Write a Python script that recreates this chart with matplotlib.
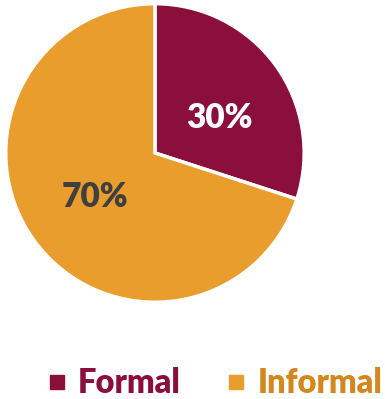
import matplotlib.pyplot as plt
from matplotlib.lines import Line2D

plt.rcParams['font.family'] = ['Lato', 'DejaVu Sans']

# --- data ---
labels = ['Formal', 'Informal']
shares = [30, 70]
colors = ['#8A0F3B', '#E89D2C']
label_colors = ['white', '#3F3F3F']
legend_text_colors = ['#8A0F3B', '#D4861F']

fig = plt.figure(figsize=(3.85, 3.99), dpi=100)
ax = fig.add_axes([0.013, 0.2406, 0.779, 0.752])

wedges, texts, autotexts = ax.pie(
    shares, colors=colors, startangle=90, counterclock=False,
    autopct=lambda p: f"{p:.0f}%", pctdistance=0.5,
    wedgeprops=dict(edgecolor='white', linewidth=2.5),
)
for t, c in zip(autotexts, label_colors):
    t.set_color(c)
    t.set_fontsize(24)
    t.set_fontweight('heavy')
# nudge the small-slice label a bit lower
autotexts[0].set_position((0.43, 0.235))
ax.set_aspect('auto')
ax.set_xlim(-1.005, 1.005)
ax.set_ylim(-1.005, 1.005)

# legend along the bottom
handles = [Line2D([], [], marker='s', linestyle='none', markersize=10,
                  markerfacecolor=c, markeredgecolor=c) for c in colors]
leg = fig.legend(handles, labels, loc='center', bbox_to_anchor=(0.553, 0.04),
                 ncol=2, frameon=False, fontsize=23.5, handletextpad=0.25,
                 columnspacing=1.3, handlelength=0.8)
for t, c in zip(leg.get_texts(), legend_text_colors):
    t.set_color(c)
    t.set_fontweight('heavy')

fig.savefig('out.png', dpi=100)
